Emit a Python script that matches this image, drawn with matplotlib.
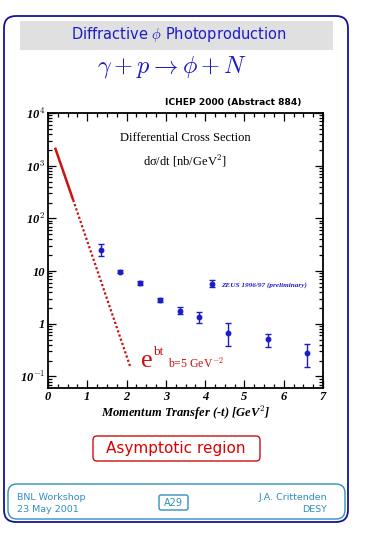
import numpy as np
import matplotlib
matplotlib.use("Agg")
import matplotlib.pyplot as plt
from matplotlib.patches import FancyBboxPatch, Rectangle
from matplotlib.ticker import MultipleLocator, LogLocator, NullFormatter

plt.rcParams['mathtext.fontset'] = 'cm'

# data
t_vals = [1.35, 1.84, 2.34, 2.85, 3.36, 3.84, 4.59, 5.59, 6.59]
xsec = [25.0, 9.7, 6.0, 2.8, 1.77, 1.32, 0.67, 0.51, 0.28]
err_lo = [6.0, 0.7, 0.5, 0.25, 0.27, 0.30, 0.29, 0.15, 0.13]
err_hi = [7.0, 0.7, 0.5, 0.25, 0.33, 0.38, 0.36, 0.14, 0.14]

fit_solid_t = [0.18, 0.64]
fit_solid_y = [2200.0, 224.0]
fit_dot_t = [0.64, 2.09]
fit_dot_y = [224.0, 0.155]

ytick_vals = [0.1, 1, 10, 100, 1000, 10000]
ytick_labels = ['10$^{-1}$', '1', '10', '10$^{2}$', '10$^{3}$', '10$^{4}$']

W, H = 365, 535
blue = '#1c1cc8'
dark_blue = '#14149a'
red = '#cc1010'
foot = '#2f8fbf'

fig = plt.figure(figsize=(W / 100, H / 100), dpi=100)

# background layer in pixel coordinates
bg = fig.add_axes([0, 0, 1, 1])
bg.set_xlim(0, W)
bg.set_ylim(H, 0)
bg.axis('off')

bg.add_patch(FancyBboxPatch((4, 16), 344, 506, boxstyle='round,pad=0,rounding_size=12',
                            fc='none', ec=dark_blue, lw=1.3))
bg.add_patch(Rectangle((20, 21), 313, 29, fc='#e0e0e0', ec='none'))
bg.add_patch(FancyBboxPatch((93, 436), 167, 25, boxstyle='round,pad=0,rounding_size=4',
                            fc='white', ec=red, lw=1.0))
bg.add_patch(FancyBboxPatch((8, 484), 337, 35, boxstyle='round,pad=0,rounding_size=9',
                            fc='none', ec=foot, lw=1.0))
bg.add_patch(FancyBboxPatch((159, 495), 29, 15, boxstyle='round,pad=0,rounding_size=2',
                            fc='none', ec=foot, lw=1.0))

bg.text(179, 35, 'Diffractive $\\phi$ Photoproduction', color=blue, fontsize=10.5,
        ha='center', va='center')
bg.text(172, 67, '$\\gamma + p \\rightarrow \\phi + N$', color=blue, fontsize=17.5,
        ha='center', va='center')
bg.text(233, 103, 'ICHEP 2000 (Abstract 884)', fontsize=6.6, fontweight='bold',
        ha='center', va='center')
bg.text(176, 449, 'Asymptotic region', color='#dd0000', fontsize=11,
        ha='center', va='center')
bg.text(17, 497, 'BNL Workshop', color=foot, fontsize=6.8, ha='left', va='center')
bg.text(17, 510, '23 May 2001', color=foot, fontsize=6.8, ha='left', va='center')
bg.text(173.5, 503, 'A29', color=foot, fontsize=7, ha='center', va='center')
bg.text(327, 497, 'J.A. Crittenden', color=foot, fontsize=6.8, ha='right', va='center')
bg.text(327, 510, 'DESY', color=foot, fontsize=6.8, ha='right', va='center')

# main plot
ax = fig.add_axes([48 / W, 1 - 388 / H, 275 / W, 275 / H])
ax.set_yscale('log')
ax.set_xlim(0, 7)
ax.set_ylim(10 ** -1.22, 1e4)

ax.plot(fit_solid_t, fit_solid_y, color=red, lw=1.8, solid_capstyle='butt')
ax.plot(fit_dot_t, fit_dot_y, color=red, lw=1.6, ls=(0, (1, 1)))

eb = ax.errorbar(t_vals, xsec, yerr=[err_lo, err_hi], fmt='o', ms=3.2, color=blue,
                 ecolor=blue, elinewidth=1, capsize=2.5, capthick=1)
leg = ax.legend([eb], ['ZEUS 1996/97 (preliminary)'], loc='center left',
                bbox_to_anchor=(0.57, 0.377), frameon=False, numpoints=1,
                handlelength=1.0, handletextpad=0.7, borderpad=0,
                prop={'family': 'Liberation Serif', 'style': 'italic',
                      'weight': 'bold', 'size': 5.2})
for txt in leg.get_texts():
    txt.set_color(blue)

ax.text(0.5, 0.91, 'Differential Cross Section', transform=ax.transAxes,
        family='Liberation Serif', fontsize=9, ha='center', va='center')
ax.text(0.5, 0.825, 'd\u03c3/dt [nb/GeV$^{2}$]', transform=ax.transAxes,
        family='Liberation Serif', fontsize=9, ha='center', va='center')

ax.text(2.51, 0.20, 'e', color=red, family='Liberation Serif', fontsize=19,
        ha='center', va='center')
ax.text(2.68, 0.29, 'bt', color=red, family='Liberation Serif', fontsize=9.5,
        ha='left', va='center')
ax.text(3.05, 0.175, 'b=5 GeV$^{-2}$', color=red, family='Liberation Serif', fontsize=8.5,
        ha='left', va='center')

ax.set_xlabel('Momentum Transfer (-t) [GeV$^{2}$]', family='Liberation Serif',
              fontweight='bold', style='italic', fontsize=9, labelpad=1)

ax.set_yticks(ytick_vals)
ax.set_yticklabels(ytick_labels)
ax.yaxis.set_minor_locator(LogLocator(base=10, subs=np.arange(2, 10)))
ax.yaxis.set_minor_formatter(NullFormatter())
ax.xaxis.set_major_locator(MultipleLocator(1))
ax.xaxis.set_minor_locator(MultipleLocator(0.25))

for lab in ax.get_xticklabels() + ax.get_yticklabels():
    lab.set_family('Liberation Serif')
    lab.set_fontweight('bold')
    lab.set_style('italic')
    lab.set_fontsize(9)

ax.tick_params(which='both', direction='in', top=True, right=True, width=0.9)
ax.tick_params(which='major', length=6, pad=2)
ax.tick_params(which='minor', length=3)
for sp in ax.spines.values():
    sp.set_linewidth(1.3)

fig.savefig('out.png', dpi=100)
